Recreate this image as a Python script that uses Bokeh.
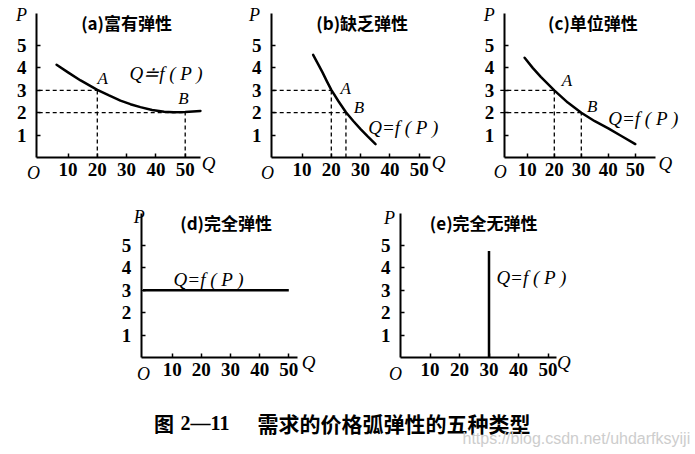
from bokeh.plotting import figure
from bokeh.layouts import row, column
from bokeh.models import Range1d, FixedTicker, Label, Spacer, LinearAxis
from bokeh.embed import file_html
from bokeh.resources import INLINE

# ---------------- data ----------------
q_ticks = [10, 20, 30, 40, 50]
p_ticks = [1, 2, 3, 4, 5]

# (a) elastic demand
a_q = [6.1, 10.0, 14.3, 20.0, 24.0, 27.9, 31.3, 34.7, 38.7, 42.8, 46.0, 50.0, 55.2]
a_p = [4.14, 3.80, 3.44, 3.02, 2.77, 2.54, 2.38, 2.25, 2.12, 2.04, 2.02, 2.03, 2.08]
a_pts_q = [20, 50]
a_pts_p = [3, 2]

# (b) inelastic demand
b_q = [13.8, 15.5, 17.0, 18.5, 20.0, 22.5, 25.0, 27.5, 30.0, 32.5, 35.1]
b_p = [4.58, 4.17, 3.80, 3.40, 3.02, 2.50, 2.02, 1.63, 1.27, 0.93, 0.60]
b_pts_q = [20, 25]
b_pts_p = [3, 2]

# (c) unit elastic demand
c_q = [9.0, 12.0, 15.0, 20.0, 25.0, 30.0, 35.0, 40.0, 45.0, 50.0]
c_p = [4.45, 4.00, 3.60, 3.00, 2.45, 2.00, 1.62, 1.30, 0.95, 0.60]
c_pts_q = [20, 30]
c_pts_p = [3, 2]

# (d) perfectly elastic
d_q = [0, 50]
d_p = [3, 3]

# (e) perfectly inelastic
e_q = [30, 30]
e_p = [0, 4.76]

titles = ["(a)富有弹性", "(b)缺乏弹性", "(c)单位弹性", "(d)完全弹性", "(e)完全无弹性"]
caption_num = "2—11"
caption_txt = "需求的价格弧弹性的五种类型"
watermark = "https://blog.csdn.net/uhdarfksyiji"

SERIF = "Liberation Serif"
CJK = "Noto Sans CJK SC"
YTOP = 6.43


def panel(w, h, ox, oy, sx, sy, xb):
    """ox, oy: pixel position of the data origin inside the figure; sx, sy: px per unit."""
    p = figure(width=w, height=h,
               x_range=Range1d(-ox / sx, (w - ox) / sx),
               y_range=Range1d(-(h - oy) / sy, oy / sy),
               output_backend="svg", toolbar_location=None,
               x_axis_type=None, y_axis_type=None, min_border=0)
    p.outline_line_color = None
    p.grid.visible = False
    xa = LinearAxis(fixed_location=0, bounds=xb, ticker=FixedTicker(ticks=q_ticks))
    ya = LinearAxis(fixed_location=xb[0], bounds=(0, YTOP), ticker=FixedTicker(ticks=p_ticks))
    for ax in (xa, ya):
        ax.axis_line_width = 2
        ax.axis_line_color = "black"
        ax.major_tick_in = 4
        ax.major_tick_out = 0
        ax.major_tick_line_width = 1.5
        ax.minor_tick_line_color = None
        ax.major_label_text_font = SERIF
        ax.major_label_text_font_size = "19px"
        ax.major_label_text_font_style = "bold"
        ax.major_label_text_color = "black"
    xa.major_label_standoff = 5
    ya.major_label_standoff = 10
    p.add_layout(xa, "below")
    p.add_layout(ya, "left")
    return p


def lab(p, x, y, text, font=SERIF, size="17px", style="italic", align="center", color="black"):
    p.add_layout(Label(x=x, y=y, text=text, text_font=font, text_font_size=size,
                       text_font_style=style, text_align=align, text_baseline="middle",
                       text_color=color))


def axes_labels(p, P, Q, O):
    lab(p, P[0], P[1], "P", size="18px")
    lab(p, Q[0], Q[1], "Q", size="19px")
    lab(p, O[0], O[1], "O", size="18px")


def dashed(p, qs, ps):
    for qv, pv in zip(qs, ps):
        p.segment(x0=[0], y0=[pv], x1=[qv], y1=[pv], line_color="black",
                  line_width=1.3, line_dash="4 3")
        p.segment(x0=[qv], y0=[0], x1=[qv], y1=[pv], line_color="black",
                  line_width=1.3, line_dash="4 3")


# ---- (a)
pa = panel(232, 195, 38.2, 157, 2.93, 22.4, (-0.75, 55.2))
dashed(pa, a_pts_q, a_pts_p)
pa.line(a_q, a_p, line_color="black", line_width=2.5, line_join="round", line_cap="round")
lab(pa, 30.0, 6.03, titles[0], font=CJK, size="17px", style="bold")
lab(pa, 21.8, 3.53, "A", size="17px")
lab(pa, 49.4, 2.63, "B", size="17px")
lab(pa, 31.0, 3.75, "Q≐f ( P )", size="19px", align="left")
axes_labels(pa, (-5.87, 6.34), (57.95, -0.27), (-1.77, -0.67))

# ---- (b)
pb = panel(234, 195, 40.2, 157, 2.93, 22.4, (-0.4, 53.9))
dashed(pb, b_pts_q, b_pts_p)
pb.line(b_q, b_p, line_color="black", line_width=2.5, line_join="round", line_cap="round")
lab(pb, 30.55, 6.03, titles[1], font=CJK, size="17px", style="bold")
lab(pb, 24.9, 3.07, "A", size="17px")
lab(pb, 29.4, 2.25, "B", size="17px")
lab(pb, 32.6, 1.35, "Q=f ( P )", size="19px", align="left")
axes_labels(pb, (-6.2, 6.34), (56.6, -0.22), (-1.77, -0.67))

# ---- (c)
pc = panel(229, 195, 33.8, 157, 2.70, 22.4, (1.5, 57.5))
dashed(pc, c_pts_q, c_pts_p)
pc.line(c_q, c_p, line_color="black", line_width=2.5, line_join="round", line_cap="round")
lab(pc, 34.3, 6.03, titles[2], font=CJK, size="17px", style="bold")
lab(pc, 24.7, 3.44, "A", size="17px")
lab(pc, 34.0, 2.28, "B", size="17px")
lab(pc, 40.0, 1.73, "Q=f ( P )", size="19px", align="left")
axes_labels(pc, (-4.06, 6.34), (61.1, -0.27), (0.02, -0.66))

# ---- (d)
pd_ = panel(230, 195, 42.5, 162, 2.916, 22.4, (-0.6, 52.9))
pd_.line(d_q, d_p, line_color="black", line_width=2.5)
lab(pd_, 28.5, 6.04, titles[3], font=CJK, size="17px", style="bold")
lab(pd_, 10.5, 3.48, "Q=f ( P )", size="19px", align="left")
axes_labels(pd_, (-1.29, 6.29), (56.8, -0.21), (0.19, -0.73))

# ---- (e)
pe = panel(220, 195, 40, 162, 2.95, 22.4, (0, 52.9))
pe.line(e_q, e_p, line_color="black", line_width=2.5)
lab(pe, 28.2, 6.03, titles[4], font=CJK, size="17px", style="bold")
lab(pe, 32.5, 3.58, "Q=f ( P )", size="19px", align="left")
axes_labels(pe, (-3.73, 6.25), (55.4, -0.21), (-1.7, -0.73))

# ---- caption
cap = figure(width=695, height=64, x_range=Range1d(0, 695), y_range=Range1d(64, 0),
             output_backend="svg", toolbar_location=None,
             x_axis_type=None, y_axis_type=None, min_border=0)
cap.outline_line_color = None
cap.grid.visible = False
lab(cap, 153.5, 32.5, "图", font=CJK, size="20px", style="bold", align="left")
lab(cap, 180, 32.5, caption_num, font=SERIF, size="20px", style="bold", align="left")
lab(cap, 257, 32.5, caption_txt, font=CJK, size="21px", style="bold", align="left")
lab(cap, 462, 47.5, watermark, font="Liberation Sans", size="16px", style="normal",
    align="left", color="#cdcdcd")

layout = column(
    row(pa, pb, pc),
    row(Spacer(width=100, height=195), pd_, Spacer(width=30, height=195), pe),
    cap,
)

open("out.html", "w").write(file_html(layout, INLINE))
